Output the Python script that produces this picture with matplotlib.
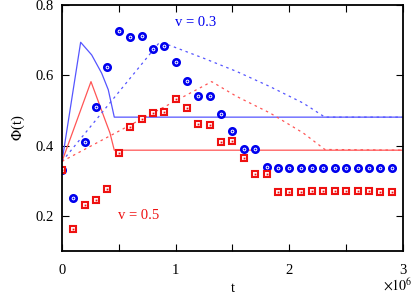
import numpy as np
import matplotlib
matplotlib.use('Agg')
import matplotlib.pyplot as plt
from matplotlib.ticker import MultipleLocator, FuncFormatter

# points (t en unites de 1e6)
t_pts = [0.0, 0.1, 0.2, 0.3, 0.4, 0.5, 0.6, 0.7, 0.8, 0.9, 1.0, 1.1, 1.2, 1.3, 1.4,
         1.5, 1.6, 1.7, 1.8, 1.9, 2.0, 2.1, 2.2, 2.3, 2.4, 2.5, 2.6, 2.7, 2.8, 2.9]
phi_03 = [0.331, 0.25, 0.41, 0.509, 0.625, 0.725, 0.71, 0.712, 0.675, 0.682, 0.638,
          0.585, 0.54, 0.54, 0.49, 0.442, 0.391, 0.39, 0.34, 0.337, 0.337, 0.335,
          0.335, 0.335, 0.335, 0.335, 0.335, 0.335, 0.335, 0.335]
phi_05 = [0.331, 0.164, 0.231, 0.244, 0.277, 0.379, 0.453, 0.477, 0.493, 0.496, 0.534,
          0.506, 0.461, 0.458, 0.41, 0.412, 0.364, 0.319, 0.319, 0.267, 0.268, 0.268,
          0.27, 0.27, 0.27, 0.27, 0.27, 0.27, 0.268, 0.268]

# courbes pleines
t_sol_03 = [0.0, 0.164, 0.261, 0.349, 0.407, 0.46, 3.0]
y_sol_03 = [0.355, 0.694, 0.658, 0.606, 0.559, 0.481, 0.481]
t_sol_05 = [0.0, 0.255, 0.319, 0.378, 0.422, 0.46, 3.0]
y_sol_05 = [0.355, 0.582, 0.526, 0.474, 0.436, 0.387, 0.387]

# courbes pointillees
t_dash_03 = [0.0, 0.856, 0.95, 1.243, 1.536, 1.829, 2.122, 2.313, 3.0]
y_dash_03 = [0.355, 0.693, 0.685, 0.649, 0.611, 0.568, 0.521, 0.481, 0.481]
t_dash_05 = [0.0, 1.317, 1.536, 1.829, 2.122, 2.313, 3.0]
y_dash_05 = [0.355, 0.582, 0.54, 0.493, 0.436, 0.389, 0.387]

blue = '#0000ee'
red = '#ee1111'
lblue = '#5555ff'
lred = '#ff5555'

plt.rcParams['font.family'] = ['Liberation Serif', 'DejaVu Serif']
plt.rcParams['mathtext.fontset'] = 'stix'

fig = plt.figure(figsize=(4.15, 2.94), dpi=100)
ax = fig.add_axes([0.1494, 0.146, 0.8216, 0.837])

ax.plot(t_sol_03, y_sol_03, color=lblue, lw=0.9)
ax.plot(t_sol_05, y_sol_05, color=lred, lw=0.9)
ax.plot(t_dash_03, y_dash_03, color=lblue, lw=0.9, ls=(0, (2, 3)))
ax.plot(t_dash_05, y_dash_05, color=lred, lw=0.9, ls=(0, (2, 3)))

ax.plot(t_pts, phi_03, ls='none', marker='o', ms=4.6, mfc='white', mec=blue, mew=1.9)
ax.plot(t_pts, phi_03, ls='none', marker='o', ms=1.3, mfc=blue, mec=blue, mew=0)
ax.plot(t_pts, phi_05, ls='none', marker='s', ms=5.0, mfc='white', mec=red, mew=1.5)
ax.plot(t_pts, phi_05, ls='none', marker='s', ms=1.3, mfc=red, mec=red, mew=0)

ax.set_xlim(0, 3)
ax.set_ylim(0.1, 0.8)
ax.xaxis.set_major_locator(MultipleLocator(0.5))
ax.yaxis.set_major_locator(MultipleLocator(0.2))
ax.xaxis.set_major_formatter(FuncFormatter(lambda v, p: '%d' % v if abs(v - round(v)) < 1e-6 else ''))
ax.yaxis.set_major_formatter(FuncFormatter(lambda v, p: '%.1f' % v))
ax.tick_params(direction='in', top=True, right=True, length=5, width=0.8, labelsize=10.5)
ax.tick_params(axis='x', pad=9)
ax.tick_params(axis='y', pad=6)
for s in ax.spines.values():
    s.set_linewidth(1.3)

ax.text(1.175, 0.75, 'v = 0.3', color=blue, fontsize=10.5, ha='center', va='center')
ax.text(0.673, 0.2, 'v = 0.5', color=red, fontsize=10.5, ha='center', va='center')

ax.set_ylabel(r'$\Phi$(t)', fontsize=10.5, labelpad=6)
ax.set_xlabel('t', fontsize=10.5)
ax.xaxis.set_label_coords(0.5, -0.125)
fig.text(0.993, 0.012, r'$\times10^6$', fontsize=10, ha='right', va='baseline')

fig.savefig('out.png', dpi=100)
